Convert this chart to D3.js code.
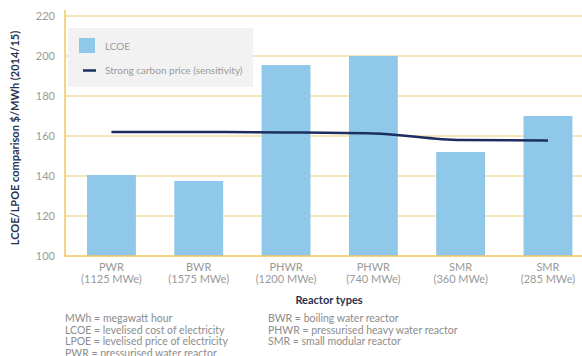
<!DOCTYPE html>
<html><head><meta charset="utf-8">
<script src="https://cdn.jsdelivr.net/npm/d3@7"></script>
<style>body{margin:0;background:#fff;}svg{display:block;font-family:Lato,"Open Sans",sans-serif;}</style>
</head><body>
<svg id="c" width="582" height="356"></svg>
<script>
const categories = ["PWR|(1125 MWe)","BWR|(1575 MWe)","PHWR|(1200 MWe)","PHWR|(740 MWe)","SMR|(360 MWe)","SMR|(285 MWe)"];
const lcoe = [140.5, 137.5, 195.5, 200, 152, 170];
const carbon = [162, 162, 161.8, 161.3, 158, 157.7];
const yTicks = [100,120,140,160,180,200,220];
const notesLeft = ["MWh = megawatt hour","LCOE = levelised cost of electricity","LPOE = levelised price of electricity","PWR = pressurised water reactor"];
const notesRight = ["BWR = boiling water reactor","PHWR = pressurised heavy water reactor","SMR = small modular reactor"];

const svg = d3.select("#c");
const x = d3.scaleBand().domain(categories).range([65, 594.4]).paddingInner(0.44).paddingOuter(0.252);
const y = d3.scaleLinear().domain([100,220]).range([256,16]);

// grid
svg.append("g").selectAll("line").data(yTicks.slice(1)).join("line")
  .attr("x1",65).attr("x2",582).attr("y1",d=>y(d)).attr("y2",d=>y(d))
  .attr("stroke","#f3dca0").attr("stroke-width",1.5);

// legend box
svg.append("rect").attr("x",68).attr("y",28).attr("width",185).attr("height",59).attr("fill","#f2f2f2");

// bars
svg.append("g").selectAll("rect").data(categories).join("rect")
  .attr("x",d=>x(d)).attr("width",x.bandwidth())
  .attr("y",(d,i)=>y(lcoe[i])).attr("height",(d,i)=>y(100)-y(lcoe[i]))
  .attr("fill","#8fc8e8");

// axes lines
svg.append("line").attr("x1",65).attr("x2",65).attr("y1",10).attr("y2",256.5).attr("stroke","#f2c660").attr("stroke-width",1.5);
svg.append("line").attr("x1",64.3).attr("x2",582).attr("y1",256).attr("y2",256).attr("stroke","#f2c660").attr("stroke-width",1.5);

// y tick labels
svg.append("g").selectAll("text").data(yTicks).join("text")
  .attr("x",55).attr("y",d=>y(d)+4).attr("text-anchor","end")
  .attr("font-size",11).attr("fill","#9a9a9a").text(d=>d);

// line
const line = d3.line().x((d,i)=>x(categories[i])+x.bandwidth()/2).y(d=>y(d)).curve(d3.curveMonotoneX);
svg.append("path").datum(carbon).attr("d",line).attr("fill","none").attr("stroke","#1c2f5e").attr("stroke-width",2.5);

// x labels
const xl = svg.append("g").selectAll("text").data(categories).join("text")
  .attr("text-anchor","middle").attr("font-size",11).attr("fill","#9a9a9a");
xl.append("tspan").attr("x",d=>x(d)+x.bandwidth()/2).attr("y",271).text(d=>d.split("|")[0]);
xl.append("tspan").attr("x",d=>x(d)+x.bandwidth()/2).attr("y",283).text(d=>d.split("|")[1]);

// axis titles
svg.append("text").attr("x",329).attr("y",304).attr("text-anchor","middle").attr("font-size",11).attr("font-weight","bold").attr("fill","#27324f").text("Reactor types");
svg.append("text").attr("transform","translate(19,138) rotate(-90)").attr("text-anchor","middle").attr("font-size",11).attr("font-weight","bold").attr("fill","#27324f").text("LCOE/LPOE comparison $/MWh (2014/15)");

// legend
svg.append("rect").attr("x",79).attr("y",38).attr("width",16).attr("height",15).attr("fill","#8fc8e8");
svg.append("text").attr("x",105).attr("y",49.5).attr("font-size",10).attr("fill","#9a9a9a").text("LCOE");
svg.append("line").attr("x1",83).attr("x2",96).attr("y1",70.5).attr("y2",70.5).attr("stroke","#1c2f5e").attr("stroke-width",2.5);
svg.append("text").attr("x",105).attr("y",74).attr("font-size",10).attr("fill","#9a9a9a").text("Strong carbon price (sensitivity)");

// notes
svg.append("g").selectAll("text").data(notesLeft).join("text").attr("x",65).attr("y",(d,i)=>322+i*11.7).attr("font-size",10.5).attr("fill","#8c8c8c").text(d=>d);
svg.append("g").selectAll("text").data(notesRight).join("text").attr("x",268).attr("y",(d,i)=>322+i*11.7).attr("font-size",10.5).attr("fill","#8c8c8c").text(d=>d);
</script>
</body></html>
